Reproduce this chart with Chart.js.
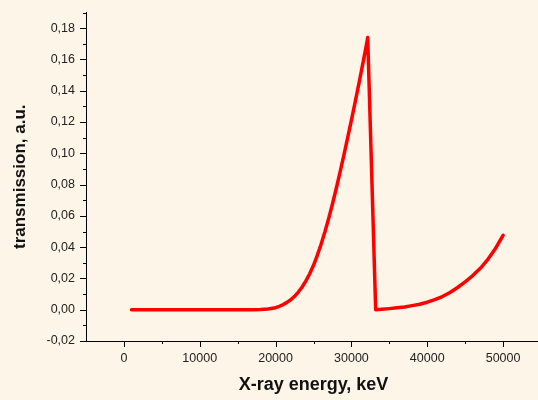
<!DOCTYPE html>
<html>
<head>
<meta charset="utf-8">
<script src="https://cdn.jsdelivr.net/npm/chart.js@4/dist/chart.umd.min.js"></script>
<style>
  html, body { margin: 0; padding: 0; background: #fdf5e7; overflow: hidden; }
  #wrap { width: 541px; height: 400px; }
</style>
</head>
<body>
<div id="wrap"><canvas id="myChart" width="541" height="400"></canvas></div>
<script>
// energies (keV) and transmission (a.u.)
const energy = [1000, 5000, 10000, 15000, 17000, 18000, 19000, 20000, 20500, 21000, 21500, 22000,
  22500, 23000, 23500, 24000, 24500, 25000, 25500, 26000, 26500, 27000, 27500, 28000, 28500,
  29000, 29500, 30000, 30500, 31000, 31500, 32000, 32150, 33200, 34000, 35000, 36000, 37000,
  38000, 39000, 40000, 41000, 42000, 43000, 44000, 45000, 46000, 47000, 48000, 49000, 50000];
const transmission = [0, 0, 0, 0, 0, 0.0001, 0.0005, 0.0013, 0.0022, 0.0033, 0.0047, 0.0064,
  0.0085, 0.0113, 0.0145, 0.0184, 0.0230, 0.0284, 0.0348, 0.0418, 0.0497, 0.0583, 0.0676, 0.0775, 0.0879,
  0.0987, 0.1098, 0.1212, 0.1329, 0.1449, 0.1572, 0.1698, 0.1740, 0.0, 0.0003, 0.0007, 0.0012, 0.0018,
  0.0026, 0.0035, 0.0048, 0.0064, 0.0084, 0.0110, 0.0142, 0.0178, 0.0218, 0.0265, 0.0322, 0.0392, 0.0476];

const xTicks = [0, 10000, 20000, 30000, 40000, 50000];
const xMinor = [5000, 15000, 25000, 35000, 45000];
const yTicks = [-0.02, 0, 0.02, 0.04, 0.06, 0.08, 0.10, 0.12, 0.14, 0.16, 0.18];
const yMinor = [-0.01, 0.01, 0.03, 0.05, 0.07, 0.09, 0.11, 0.13, 0.15, 0.17, 0.19];

const points = energy.map((e, i) => ({ x: e, y: transmission[i] }));

// petits traits des graduations (majeures + mineures)
const tickMarks = {
  id: 'tickMarks',
  afterDraw(chart) {
    const ctx = chart.ctx;
    const xs = chart.scales.x, ys = chart.scales.y;
    const area = chart.chartArea;
    ctx.save();
    ctx.strokeStyle = '#000';
    ctx.lineWidth = 1;
    ctx.beginPath();
    xTicks.forEach(v => { const p = Math.round(xs.getPixelForValue(v)) + 0.5; ctx.moveTo(p, area.bottom); ctx.lineTo(p, area.bottom + 6); });
    xMinor.forEach(v => { const p = Math.round(xs.getPixelForValue(v)) + 0.5; ctx.moveTo(p, area.bottom); ctx.lineTo(p, area.bottom + 3); });
    yTicks.forEach(v => { const p = Math.round(ys.getPixelForValue(v)) + 0.5; ctx.moveTo(area.left, p); ctx.lineTo(area.left - 6, p); });
    yMinor.forEach(v => { const p = Math.round(ys.getPixelForValue(v)) + 0.5; ctx.moveTo(area.left, p); ctx.lineTo(area.left - 3, p); });
    ctx.stroke();
    ctx.restore();
  }
};

new Chart(document.getElementById('myChart'), {
  type: 'line',
  data: {
    datasets: [{
      data: points,
      borderColor: '#ff0000',
      borderWidth: 3.5,
      pointRadius: 0,
      tension: 0,
      borderJoinStyle: 'round',
      borderCapStyle: 'round'
    }]
  },
  options: {
    responsive: false,
    animation: false,
    layout: { padding: { top: 6, right: 0, left: 0, bottom: 0 } },
    plugins: { legend: { display: false }, tooltip: { enabled: false } },
    scales: {
      x: {
        type: 'linear',
        min: -5000,
        max: 55000,
        afterBuildTicks: s => { s.ticks = xTicks.map(v => ({ value: v })); },
        afterFit: s => { s.height = 59; },
        grid: { display: false, drawTicks: true, tickLength: 6 },
        border: { display: true, color: '#000', width: 1 },
        ticks: { color: '#222', font: { family: 'Liberation Sans', size: 12.5 }, padding: 4, maxRotation: 0,
          callback: v => String(v) },
        title: { display: true, text: 'X-ray energy, keV', color: '#111',
          font: { family: 'Liberation Sans', size: 18, weight: 'bold' }, padding: { top: 5 } }
      },
      y: {
        min: -0.02,
        max: 0.19,
        afterBuildTicks: s => { s.ticks = yTicks.map(v => ({ value: v })); },
        afterFit: s => { s.width = 86; },
        grid: { display: false, drawTicks: true, tickLength: 6 },
        border: { display: true, color: '#000', width: 1 },
        ticks: { color: '#222', font: { family: 'Liberation Sans', size: 12.5 }, padding: 5,
          callback: v => v.toFixed(2).replace('.', ',') },
        title: { display: true, text: 'transmission, a.u.', color: '#111',
          font: { family: 'Liberation Sans', size: 17, weight: 'bold' }, padding: { top: 10, bottom: 4 } }
      }
    }
  },
  plugins: [tickMarks]
});
</script>
</body>
</html>
